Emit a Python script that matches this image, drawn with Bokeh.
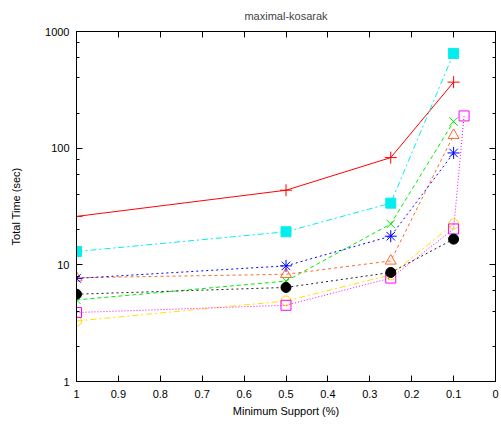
from bokeh.plotting import figure
from bokeh.models import Range1d, FixedTicker, LinearAxis, LogAxis, LogTicker, CustomJSTickFormatter
from bokeh.embed import file_html
from bokeh.resources import INLINE

# ---- data ----
x_main = [1.0, 0.5, 0.25, 0.1]
x_magenta = [1.0, 0.5, 0.25, 0.1, 0.075]

red_vals = [26, 43.6, 83, 368]
cyan_vals = [13, 19.2, 33.8, 649]
green_vals = [5.0, 7.26, 22.4, 169]
blue_vals = [7.65, 9.8, 17.6, 91]
orange_vals = [7.75, 8.3, 10.8, 129]
black_vals = [5.6, 6.4, 8.6, 16.6]
magenta_vals = [3.9, 4.5, 7.7, 20.3, 189]
yellow_vals = [3.3, 4.9, 8.2, 22.4]

x_ticks = [1.0, 0.9, 0.8, 0.7, 0.6, 0.5, 0.4, 0.3, 0.2, 0.1, 0.0]
x_tick_labels = ["1", "0.9", "0.8", "0.7", "0.6", "0.5", "0.4", "0.3", "0.2", "0.1", "0"]
y_ticks = [1, 10, 100, 1000]
y_tick_labels = ["1", "10", "100", "1000"]

FONT = "Liberation Sans"

p = figure(width=499, height=419, output_backend="svg", toolbar_location=None,
           y_axis_type="log", x_range=Range1d(1, 0), y_range=Range1d(1, 1000),
           title="maximal-kosarak", min_border_left=76, min_border_right=4,
           min_border_top=31, min_border_bottom=35)

p.title.align = "center"
p.title.vertical_align = "top"
p.title.text_font = FONT
p.title.text_font_size = "11px"
p.title.text_font_style = "normal"
p.title.standoff = 15

p.xgrid.visible = False
p.ygrid.visible = False
p.outline_line_color = "black"
p.outline_line_width = 1
p.background_fill_color = "white"
p.border_fill_color = "white"

# x axis
xa = p.xaxis[0]
xa.ticker = FixedTicker(ticks=x_ticks)
xa.major_label_overrides = {t: l for t, l in zip(x_ticks, x_tick_labels)}
xa.axis_label = "Minimum Support (%)"

ya = p.yaxis[0]
ya.ticker = LogTicker(desired_num_ticks=4)
ya.major_label_overrides = {t: l for t, l in zip(y_ticks, y_tick_labels)}
ya.axis_label = "Total Time (sec)"

for ax in (xa, ya):
    ax.major_tick_in = 6
    ax.major_tick_out = 0
    ax.minor_tick_in = 3
    ax.minor_tick_out = 0
    ax.axis_line_color = "black"
    ax.major_label_text_font = FONT
    ax.major_label_text_font_size = "11px"
    ax.major_label_text_color = "black"
    ax.axis_label_text_font = FONT
    ax.axis_label_text_font_size = "11px"
    ax.axis_label_text_font_style = "normal"
    ax.axis_label_text_color = "black"

xa.major_label_standoff = 8
xa.axis_label_standoff = 4
ya.major_label_standoff = 7
ya.axis_label_standoff = 20

# mirror axes (ticks only, blank labels)
blank = CustomJSTickFormatter(code="return ''")
top = LinearAxis(ticker=FixedTicker(ticks=x_ticks), formatter=blank,
                 major_tick_in=6, major_tick_out=0, minor_tick_in=0, minor_tick_out=0,
                 major_label_standoff=0, major_label_text_font_size="2px")
right = LogAxis(ticker=LogTicker(desired_num_ticks=4), formatter=blank,
                major_tick_in=6, major_tick_out=0, minor_tick_in=3, minor_tick_out=0,
                major_label_standoff=0, major_label_text_font_size="2px")
p.add_layout(top, "above")
p.add_layout(right, "right")

MS = 10

# yellow (open circle, dash-dot)
p.line(x_main, yellow_vals, line_color="#ffe000", line_width=1, line_dash="6 3 2 3")
p.scatter(x_main, yellow_vals, marker="circle", size=MS, fill_color=None, line_color="#ffd800", line_width=1)

# red (+, solid)
p.line(x_main, red_vals, line_color="#ff0000", line_width=1)
p.scatter(x_main, red_vals, marker="cross", size=MS + 2, line_color="#ff0000", line_width=1)

# cyan (filled square, dash-dot)
p.line(x_main, cyan_vals, line_color="#00eeee", line_width=1, line_dash="6 3 2 3")
p.scatter(x_main, cyan_vals, marker="square", size=MS, fill_color="#00eeee", line_color="#00eeee")

# green (x, dashed)
p.line(x_main, green_vals, line_color="#00ee00", line_width=1, line_dash="4 3")
p.scatter(x_main, green_vals, marker="x", size=MS + 2, line_color="#00ee00", line_width=1)

# orange (open triangle, short dashed)
p.line(x_main, orange_vals, line_color="#ff6a2a", line_width=1, line_dash="3 3")
p.scatter(x_main, orange_vals, marker="triangle", size=MS + 1, fill_color=None, line_color="#ff6a2a", line_width=1)

# blue (asterisk, dotted)
p.line(x_main, blue_vals, line_color="#0000ff", line_width=1, line_dash="2 3")
p.scatter(x_main, blue_vals, marker="asterisk", size=MS + 2, line_color="#0000ff", line_width=1)

# magenta (open square, dotted)
p.line(x_magenta, magenta_vals, line_color="#ff00ff", line_width=1, line_dash="1 2")
p.scatter(x_magenta, magenta_vals, marker="square", size=MS, fill_color=None, line_color="#ff00ff", line_width=1)

# black (filled circle, dotted)
p.line(x_main, black_vals, line_color="#202020", line_width=1, line_dash="2 3")
p.scatter(x_main, black_vals, marker="circle", size=MS, fill_color="black", line_color="black")

open("out.html", "w").write(file_html(p, INLINE))
